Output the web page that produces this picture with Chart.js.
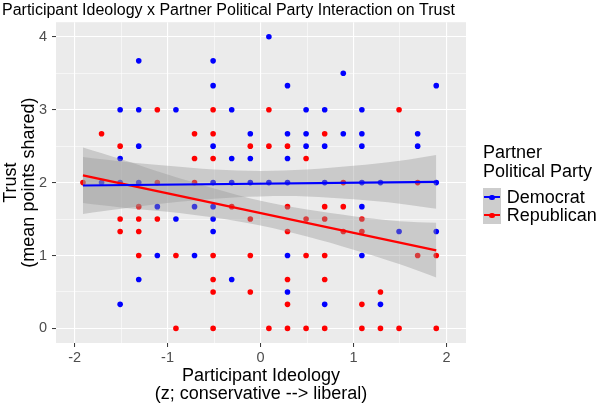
<!DOCTYPE html>
<html>
<head>
<meta charset="utf-8" />
<title>Participant Ideology x Partner Political Party Interaction on Trust</title>
<script src="https://cdn.jsdelivr.net/npm/chart.js@4.4.1/dist/chart.umd.min.js"></script>
<style>
    html, body { margin: 0; padding: 0; background: #fff; }
    #wrap { position: relative; width: 597px; height: 406px; overflow: hidden; font-family: "Liberation Sans", Arial, sans-serif; }
    #legend { position: absolute; left: 483px; top: 143px; color: #000; font-size: 18px; line-height: 18.7px; white-space: nowrap; }
    .key-row { display: flex; align-items: center; height: 17.8px; }
    .key { position: relative; flex: none; width: 17.8px; height: 17.8px; background: #cdcdcd; margin-right: 6px; }
    .key .ln { position: absolute; left: 1px; right: 1px; top: 8px; height: 2px; }
    .key .pt { position: absolute; left: 6.2px; top: 6.3px; width: 5.4px; height: 5.4px; border-radius: 50%; }
</style>
</head>
<body>
<div id="wrap">
    <canvas id="chart" width="597" height="406"></canvas>
    <div id="legend">
        <div>Partner</div>
        <div style="margin-bottom:8px">Political Party</div>
        <div class="key-row"><div class="key"><div class="ln" style="background:#0000ff"></div><div class="pt" style="background:#0000ff"></div></div>Democrat</div>
        <div class="key-row"><div class="key"><div class="ln" style="background:#ff0000"></div><div class="pt" style="background:#ff0000"></div></div>Republican</div>
    </div>
</div>

<script>
    // ideology levels (z scores) the points sit on
    var ideology = [-1.91, -1.71, -1.51, -1.31, -1.11, -0.91, -0.71, -0.51, -0.31, -0.11,
                    0.09, 0.29, 0.49, 0.69, 0.89, 1.09, 1.29, 1.49, 1.69, 1.89];

    // trust values at each ideology level, one list per level
    var demTrust = [
        [], [2], [3, 2.33, 2, 0.33], [3.67, 3, 2.5, 2, 0.67], [1.67, 1],
        [3, 1.5], [1.67, 1], [3.67, 3.33, 2.5, 2, 1.67, 1.5, 1.33], [3, 2.33, 2, 0.67], [2.67, 2.33, 2],
        [4, 2], [3.33, 2.67, 2.33, 2, 1, 0.5], [3, 2.67, 2.5], [3, 2.5, 2, 0.33], [3.5, 2.67],
        [3, 2.67, 2.5, 2, 1.67, 1], [2, 0.33], [1.33], [2.67, 2.5], [3.33, 2, 1.33]
    ];
    var repTrust = [
        [2], [2.67], [2.5, 1.5, 1.33], [1.67, 1.5, 1.33, 1], [3, 2, 1.5],
        [1, 0], [2.67, 2.33, 2], [3, 2.67, 2.33, 1, 0.67, 0.5, 0], [1.67], [2.5, 1.5, 1, 0.5],
        [3, 2.5, 0], [2.5, 1.67, 1.33, 0.67, 0.33, 0], [2.33, 1.5, 1, 0], [2.67, 1.67, 1.5, 1, 0.67, 0], [2, 1.67, 1.33],
        [1.5, 1.33, 0.33, 0], [0.5, 0], [3, 0], [2, 1], [1, 0]
    ];

    // fitted lines (ends) and 95% bands
    var fitX = [-1.91, 1.89];
    var demFit = [1.96, 2.01];
    var repFit = [2.10, 1.07];
    var bandX = [-1.91, -1.5, -1, -0.5, 0, 0.5, 1, 1.5, 1.89];
    var demUpper = [2.35, 2.29, 2.23, 2.18, 2.16, 2.18, 2.23, 2.30, 2.38];
    var demLower = [1.57, 1.64, 1.72, 1.78, 1.81, 1.81, 1.77, 1.71, 1.64];
    var repUpper = [2.48, 2.32, 2.11, 1.92, 1.75, 1.63, 1.54, 1.47, 1.45];
    var repLower = [1.72, 1.66, 1.60, 1.52, 1.41, 1.26, 1.08, 0.88, 0.70];

    var xTicks = [-2, -1, 0, 1, 2];
    var yTicks = [0, 1, 2, 3, 4];

    var FONT = '"Liberation Sans", Arial, sans-serif';

    function toPoints(byLevel) {
        var out = [];
        byLevel.forEach(function (list, i) {
            list.forEach(function (v) { out.push({ x: ideology[i], y: v }); });
        });
        return out;
    }
    function pairs(xs, ys) {
        return xs.map(function (x, i) { return { x: x, y: ys[i] }; });
    }
    // major ticks plus the half-way minor grid lines
    function withMinor(major) {
        var all = [];
        major.forEach(function (v, i) {
            all.push(v);
            if (i < major.length - 1) all.push((v + major[i + 1]) / 2);
        });
        return all;
    }
    function isMajor(v) { return Math.abs(v - Math.round(v)) < 1e-9; }

    var bandFill = 'rgba(153,153,153,0.4)';

    var panelBg = {
        id: 'panelBg',
        beforeDraw: function (chart) {
            var a = chart.chartArea, c = chart.ctx;
            c.save();
            c.fillStyle = '#ebebeb';
            c.fillRect(a.left, a.top, a.right - a.left, a.bottom - a.top);
            c.restore();
        }
    };

    function gridOpts() {
        return {
            color: '#ffffff',
            lineWidth: function (ctx) { return ctx.tick && isMajor(ctx.tick.value) ? 1.1 : 0.55; },
            tickColor: function (ctx) { return ctx.tick && isMajor(ctx.tick.value) ? '#333333' : 'rgba(0,0,0,0)'; },
            tickLength: 4,
            tickWidth: 1
        };
    }

    new Chart(document.getElementById('chart'), {
        type: 'scatter',
        data: {
            datasets: [
                { type: 'line', label: 'demFit', data: pairs(fitX, demFit), borderColor: '#0000ff', borderWidth: 2.2, pointRadius: 0, fill: false, order: 0 },
                { type: 'line', label: 'repFit', data: pairs(fitX, repFit), borderColor: '#ff0000', borderWidth: 2.2, pointRadius: 0, fill: false, order: 0 },
                { type: 'line', label: 'demUpper', data: pairs(bandX, demUpper), borderWidth: 0, borderColor: 'rgba(0,0,0,0)', pointRadius: 0, tension: 0.35, fill: { target: 3 }, backgroundColor: bandFill, order: 1 },
                { type: 'line', label: 'demLower', data: pairs(bandX, demLower), borderWidth: 0, borderColor: 'rgba(0,0,0,0)', pointRadius: 0, tension: 0.35, fill: false, order: 1 },
                { type: 'line', label: 'repUpper', data: pairs(bandX, repUpper), borderWidth: 0, borderColor: 'rgba(0,0,0,0)', pointRadius: 0, tension: 0.35, fill: { target: 5 }, backgroundColor: bandFill, order: 1 },
                { type: 'line', label: 'repLower', data: pairs(bandX, repLower), borderWidth: 0, borderColor: 'rgba(0,0,0,0)', pointRadius: 0, tension: 0.35, fill: false, order: 1 },
                { label: 'Democrat', data: toPoints(demTrust), backgroundColor: '#0000ff', borderWidth: 0, pointRadius: 2.8, order: 2 },
                { label: 'Republican', data: toPoints(repTrust), backgroundColor: '#ff0000', borderWidth: 0, pointRadius: 2.8, order: 2 }
            ]
        },
        options: {
            responsive: false,
            animation: false,
            layout: { padding: { left: 2, right: 131, top: 0, bottom: 0 } },
            plugins: {
                legend: { display: false },
                tooltip: { enabled: false },
                title: {
                    display: true,
                    text: 'Participant Ideology x Partner Political Party Interaction on Trust',
                    align: 'start',
                    color: '#000',
                    font: { family: FONT, size: 16, weight: 'normal', lineHeight: 1.2 },
                    padding: { top: 1, bottom: 2 }
                }
            },
            scales: {
                x: {
                    type: 'linear',
                    min: -2.2,
                    max: 2.21,
                    afterBuildTicks: function (s) { s.ticks = withMinor(xTicks).map(function (v) { return { value: v }; }); },
                    afterFit: function (s) { s.height = 63; },
                    grid: gridOpts(),
                    border: { display: false },
                    ticks: {
                        autoSkip: false, maxRotation: 0, padding: 2,
                        color: '#4d4d4d',
                        font: { family: FONT, size: 14.5 },
                        callback: function (v) { return isMajor(v) ? String(v) : ''; }
                    },
                    title: {
                        display: true,
                        text: ['Participant Ideology', '(z; conservative --> liberal)'],
                        color: '#000',
                        font: { family: FONT, size: 18, lineHeight: 0.97 },
                        padding: { top: 0, bottom: 3.5 }
                    }
                },
                y: {
                    type: 'linear',
                    min: -0.2,
                    max: 4.2,
                    afterBuildTicks: function (s) { s.ticks = withMinor(yTicks).map(function (v) { return { value: v }; }); },
                    afterFit: function (s) { s.width = 54; },
                    grid: gridOpts(),
                    border: { display: false },
                    ticks: {
                        autoSkip: false, padding: 5,
                        color: '#4d4d4d',
                        font: { family: FONT, size: 14.5 },
                        callback: function (v) { return isMajor(v) ? String(v) : ''; }
                    },
                    title: {
                        display: true,
                        text: ['Trust', '(mean points shared)'],
                        color: '#000',
                        font: { family: FONT, size: 18, lineHeight: 1.0 },
                        padding: { top: 0, bottom: 0 }
                    }
                }
            }
        },
        plugins: [panelBg]
    });
</script>
</body>
</html>
